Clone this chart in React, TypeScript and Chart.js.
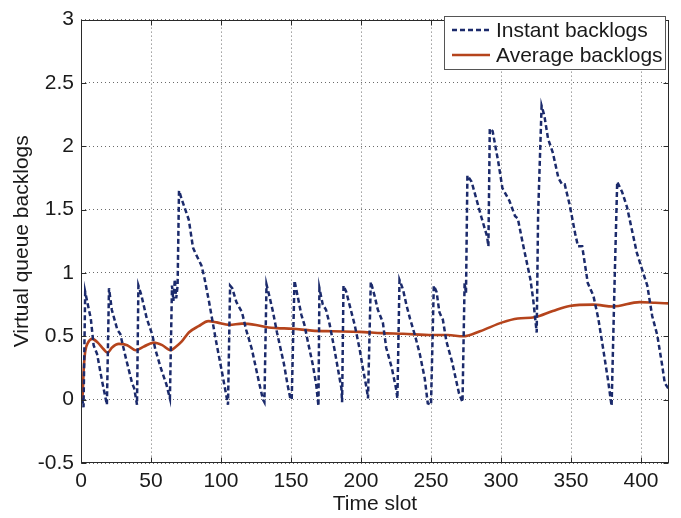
import { useEffect, useRef } from 'react';
import { Chart, registerables } from 'chart.js';

Chart.register(...registerables);

const instantT = [
  0, 1, 1.8, 3, 4.5, 7, 9, 11.5, 15, 18.5,
  20, 22, 26, 28, 32, 36.5, 38, 40,
  41, 43, 47, 51, 53, 57, 61, 63.5,
  65, 66, 67, 68, 69, 70, 72, 77, 80, 82, 86, 88, 91.5, 96.5, 101, 105,
  106.5, 108, 111, 115, 118, 122, 127.5, 130, 131,
  132.5, 134.5, 137, 140, 143, 145, 147.5, 149.5, 150.5,
  152.5, 154.7, 157.4, 159.6, 162, 165.5, 168, 169.6,
  170.3, 172.7, 175, 177.5, 181, 183.4, 186, 186.5,
  187.5, 189.5, 192, 195.5, 199, 201.3, 204, 205,
  207, 209.7, 212, 215.6, 218, 222, 225, 226,
  227.5, 230, 232.6, 235, 238.5, 242, 245.5, 247.7, 250,
  252, 254, 256, 258.5, 261, 265, 268, 270, 272.5,
  274, 275, 276, 279, 281, 286, 290, 291,
  292, 294, 298, 301, 306, 310, 312, 316, 321, 323, 325.5,
  326.5, 329, 331, 333.6, 337, 341, 343.6, 345.5, 349, 353, 355, 358, 362, 366, 369.5, 373, 376.5, 379,
  381, 383, 386.5, 390, 393.7, 397, 401, 404.5, 408, 411.6, 415, 417, 420,
];
const instantV = [
  0, 0.0, -0.06, 0.85, 0.77, 0.64, 0.43, 0.36, 0.15, -0.04,
  0.88, 0.71, 0.55, 0.52, 0.33, 0.13, 0.09, -0.04,
  0.9, 0.83, 0.64, 0.51, 0.4, 0.25, 0.12, 0.01,
  0.9, 0.78, 0.95, 0.8, 0.9, 1.65, 1.58, 1.42, 1.2, 1.15, 1.06, 0.97, 0.77, 0.46, 0.2, -0.04,
  0.9, 0.88, 0.77, 0.69, 0.55, 0.4, 0.12, 0.0, -0.02,
  0.91, 0.82, 0.7, 0.53, 0.38, 0.28, 0.12, 0.01, 0.0,
  0.94, 0.82, 0.67, 0.59, 0.46, 0.28, 0.12, -0.05,
  0.88, 0.75, 0.71, 0.6, 0.4, 0.25, 0.09, -0.02,
  0.9, 0.85, 0.74, 0.59, 0.4, 0.25, 0.09, 0.01,
  0.93, 0.82, 0.71, 0.61, 0.41, 0.25, 0.09, 0.01,
  0.945, 0.87, 0.74, 0.64, 0.51, 0.36, 0.17, -0.03, -0.04,
  0.9, 0.85, 0.69, 0.63, 0.46, 0.3, 0.15, 0.05, -0.02,
  0.92, 0.84, 1.77, 1.72, 1.64, 1.44, 1.29, 1.21,
  2.14, 2.12, 1.88, 1.67, 1.57, 1.45, 1.43, 1.21, 0.95, 0.79, 0.53,
  1.46, 2.32, 2.24, 2.06, 1.95, 1.75, 1.7, 1.7, 1.54, 1.31, 1.21, 1.21, 0.92, 0.82, 0.64, 0.4, 0.15, -0.05,
  0.87, 1.72, 1.64, 1.52, 1.33, 1.16, 1.02, 0.9, 0.66, 0.51, 0.28, 0.13, 0.08,
];

const averageT = [
  0, 1, 2, 3, 5, 8, 12, 16, 19, 22, 27, 33, 39, 45, 52, 58, 64, 68, 72, 77, 84, 91, 97,
  106, 115, 125, 134, 140, 151, 165, 180, 199, 215, 230, 251, 262, 273, 285, 301, 312,
  324, 337, 349, 366, 380, 399, 410, 420,
];
const averageV = [
  0, 0.02, 0.25, 0.38, 0.45, 0.48, 0.45, 0.4, 0.37, 0.41, 0.44, 0.43, 0.39, 0.42, 0.45, 0.43, 0.39, 0.42, 0.46, 0.53, 0.58, 0.62, 0.61,
  0.59, 0.6, 0.59, 0.57, 0.565, 0.56, 0.545, 0.54, 0.535, 0.525, 0.52, 0.51, 0.51, 0.5, 0.54, 0.61, 0.64,
  0.65, 0.7, 0.74, 0.75, 0.735, 0.77, 0.765, 0.76,
];

const seriesLabels = ['Instant backlogs', 'Average backlogs'];
const xTitle = 'Time slot';
const yTitle = 'Virtual queue backlogs';

const FONT = '"Liberation Sans", Arial, Helvetica, sans-serif';
const TEXT = '#1a1a1a';
const INSTANT_COLOR = '#1b2a6b';
const AVERAGE_COLOR = '#b5441c';

const framePlugin = {
  id: 'matlabFrame',
  afterDraw(chart: any) {
    const { ctx, chartArea: a, scales } = chart;
    ctx.save();
    ctx.strokeStyle = '#2a2a2a';
    ctx.lineWidth = 1;
    const L = Math.round(a.left) + 0.5;
    const R = Math.round(a.right) - 0.5;
    const T = Math.round(a.top) + 0.5;
    const B = Math.round(a.bottom) - 0.5;
    ctx.strokeRect(L, T, R - L, B - T);
    const tl = 5;
    ctx.beginPath();
    for (const t of scales.x.ticks) {
      const px = Math.round(scales.x.getPixelForValue(t.value)) + 0.5;
      ctx.moveTo(px, B); ctx.lineTo(px, B - tl);
      ctx.moveTo(px, T); ctx.lineTo(px, T + tl);
    }
    for (const t of scales.y.ticks) {
      const py = Math.round(scales.y.getPixelForValue(t.value)) + 0.5;
      ctx.moveTo(L, py); ctx.lineTo(L + tl, py);
      ctx.moveTo(R, py); ctx.lineTo(R - tl, py);
    }
    ctx.stroke();

    // legend box
    const bx = 444, by = 16, bw = 221, bh = 53;
    ctx.fillStyle = '#ffffff';
    ctx.fillRect(bx, by, bw, bh);
    ctx.strokeStyle = '#555';
    ctx.strokeRect(bx + 0.5, by + 0.5, bw, bh);
    const rows = [
      { label: chart.data.datasets[0].label, color: INSTANT_COLOR, dash: [5, 3], w: 2.5, y: by + 14 },
      { label: chart.data.datasets[1].label, color: AVERAGE_COLOR, dash: [], w: 2.6, y: by + 39 },
    ];
    ctx.font = `21px ${FONT}`;
    ctx.textBaseline = 'middle';
    ctx.textAlign = 'left';
    for (const r of rows) {
      ctx.strokeStyle = r.color;
      ctx.lineWidth = r.w;
      ctx.setLineDash(r.dash);
      ctx.beginPath();
      ctx.moveTo(bx + 8, r.y);
      ctx.lineTo(bx + 46, r.y);
      ctx.stroke();
      ctx.setLineDash([]);
      ctx.fillStyle = TEXT;
      ctx.fillText(r.label, bx + 52, r.y + 1);
    }
    ctx.restore();
  },
};

export default function App() {
  const ref = useRef<HTMLCanvasElement | null>(null);

  useEffect(() => {
    const canvas = ref.current;
    if (!canvas) return;
    const chart = new Chart(canvas, {
      type: 'line',
      data: {
        datasets: [
          {
            label: seriesLabels[0],
            data: instantT.map((t, i) => ({ x: t, y: instantV[i] })),
            borderColor: INSTANT_COLOR,
            borderWidth: 2.5,
            borderDash: [5, 3],
            pointRadius: 0,
            tension: 0,
            fill: false,
          },
          {
            label: seriesLabels[1],
            data: averageT.map((t, i) => ({ x: t, y: averageV[i] })),
            borderColor: AVERAGE_COLOR,
            borderWidth: 2.6,
            pointRadius: 0,
            cubicInterpolationMode: 'monotone',
            fill: false,
          },
        ],
      },
      options: {
        responsive: false,
        animation: false,
        layout: { padding: { top: 11, right: 12, left: 0, bottom: 0 } },
        plugins: {
          legend: { display: false },
          tooltip: { enabled: false },
        },
        scales: {
          x: {
            type: 'linear',
            min: 0,
            max: 420,
            afterFit: (s: any) => { s.height = 55; },
            ticks: {
              stepSize: 50,
              includeBounds: false,
              color: TEXT,
              font: { family: FONT, size: 21 },
              padding: 6,
              maxRotation: 0,
            },
            grid: { color: '#6a6a6a', lineWidth: 1, drawTicks: false },
            border: { display: false, dash: [1, 3] },
            title: {
              display: true,
              text: xTitle,
              color: TEXT,
              font: { family: FONT, size: 21 },
              padding: { top: 0, bottom: 1 },
            },
          },
          y: {
            type: 'linear',
            min: -0.5,
            max: 3,
            afterFit: (s: any) => { s.width = 81; },
            ticks: {
              stepSize: 0.5,
              color: TEXT,
              font: { family: FONT, size: 21 },
              padding: 7,
              callback: (v: any) => String(Number(v)),
            },
            grid: { color: '#6a6a6a', lineWidth: 1, drawTicks: false },
            border: { display: false, dash: [1, 3] },
            title: {
              display: true,
              text: yTitle,
              color: TEXT,
              font: { family: FONT, size: 21 },
              padding: { top: 10, bottom: 0 },
            },
          },
        },
      },
      plugins: [framePlugin],
    } as any);
    return () => chart.destroy();
  }, []);

  return (
    <div style={{ position: 'fixed', left: 0, top: 0, width: 681, height: 518, background: '#fff' }}>
      <canvas ref={ref} width={681} height={518} style={{ display: 'block' }} />
    </div>
  );
}
